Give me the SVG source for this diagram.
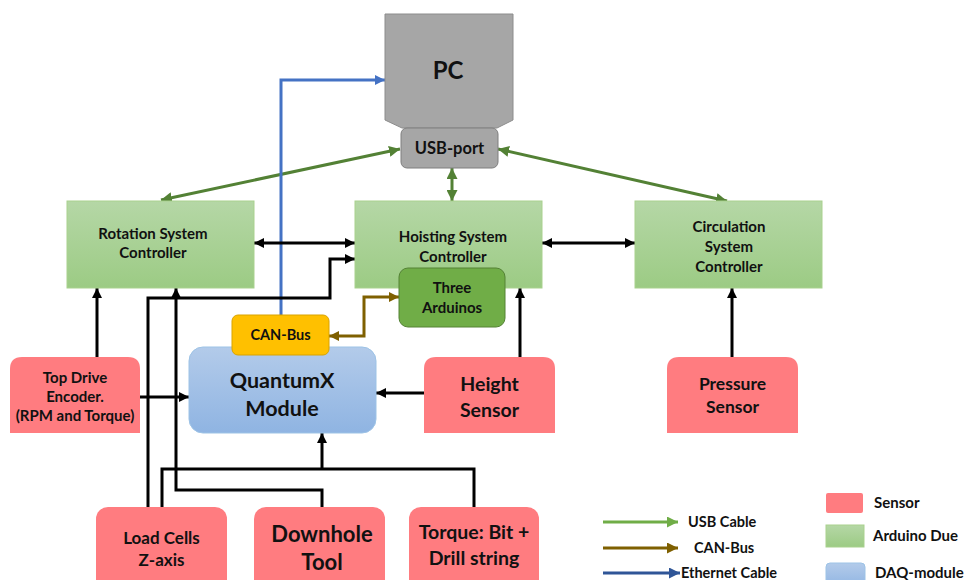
<svg xmlns="http://www.w3.org/2000/svg" width="965" height="580" viewBox="0 0 965 580">
<defs>
<linearGradient id="gGreen" x1="0" y1="0" x2="0" y2="1"><stop offset="0" stop-color="#b5d7a6"/><stop offset="1" stop-color="#9ccb84"/></linearGradient>
<linearGradient id="gBlue" x1="0" y1="0" x2="0" y2="1"><stop offset="0" stop-color="#b3cbea"/><stop offset="1" stop-color="#8fb4e2"/></linearGradient>
<marker id="aK" viewBox="0 0 10 10" refX="10" refY="5" markerWidth="10" markerHeight="10" markerUnits="userSpaceOnUse" orient="auto-start-reverse"><path d="M0,0 L10,5 L0,10 z" fill="#000"/></marker>
<marker id="aG" viewBox="0 0 10 10" refX="10" refY="5" markerWidth="11" markerHeight="11" markerUnits="userSpaceOnUse" orient="auto-start-reverse"><path d="M0,0 L10,5 L0,10 z" fill="#538135"/></marker>
<marker id="aB" viewBox="0 0 10 10" refX="10" refY="5" markerWidth="10" markerHeight="10" markerUnits="userSpaceOnUse" orient="auto-start-reverse"><path d="M0,0 L10,5 L0,10 z" fill="#4472c4"/></marker>
<marker id="aN" viewBox="0 0 10 10" refX="10" refY="5" markerWidth="10" markerHeight="10" markerUnits="userSpaceOnUse" orient="auto-start-reverse"><path d="M0,0 L10,5 L0,10 z" fill="#7f6000"/></marker>
<marker id="aLG" viewBox="0 0 10 10" refX="10" refY="5" markerWidth="11" markerHeight="11" markerUnits="userSpaceOnUse" orient="auto"><path d="M0,0 L10,5 L0,10 z" fill="#70ad47"/></marker>
<marker id="aLN" viewBox="0 0 10 10" refX="10" refY="5" markerWidth="11" markerHeight="11" markerUnits="userSpaceOnUse" orient="auto"><path d="M0,0 L10,5 L0,10 z" fill="#7f6000"/></marker>
<marker id="aLB" viewBox="0 0 10 10" refX="10" refY="5" markerWidth="11" markerHeight="11" markerUnits="userSpaceOnUse" orient="auto"><path d="M0,0 L10,5 L0,10 z" fill="#2f5597"/></marker>
</defs>
<style>
text{font-family:Lato,"Open Sans","Liberation Sans",sans-serif;font-weight:bold;fill:#111;text-anchor:middle}
.ctrl{fill:url(#gGreen);stroke:#a9d18e;stroke-width:1}
.sensor{fill:#ff7c80}
.k{fill:none;stroke:#000;stroke-width:3}
.g{fill:none;stroke:#538135;stroke-width:3}
.lt{text-anchor:start}
</style>
<rect width="965" height="580" fill="#fff"/>

<g id="connectors">
<path class="g" d="M400,149 L161,200" marker-start="url(#aG)" marker-end="url(#aG)"/>
<path class="g" d="M498,149 L727,201" marker-start="url(#aG)" marker-end="url(#aG)"/>
<path class="g" d="M452,168 L452,201" marker-start="url(#aG)" marker-end="url(#aG)"/>
<path d="M281,315 L281,80 L385,80" fill="none" stroke="#4472c4" stroke-width="3" marker-end="url(#aB)"/>
<path d="M329,336 L364,336 L364,297 L399,297" fill="none" stroke="#7f6000" stroke-width="3" marker-start="url(#aN)" marker-end="url(#aN)"/>
<path class="k" d="M254,243 L355,243" marker-start="url(#aK)" marker-end="url(#aK)"/>
<path class="k" d="M542,243 L635,243" marker-start="url(#aK)" marker-end="url(#aK)"/>
<path class="k" d="M97,357 L97,288" marker-end="url(#aK)"/>
<path class="k" d="M140,397 L189,397" marker-end="url(#aK)"/>
<path class="k" d="M424,393 L376,393" marker-end="url(#aK)"/>
<path class="k" d="M520,357 L520,288" marker-end="url(#aK)"/>
<path class="k" d="M732,357 L732,288" marker-end="url(#aK)"/>
<path class="k" d="M148,507 L148,298 L330,298 L330,259 L355,259" marker-end="url(#aK)"/>
<path class="k" d="M162,507 L162,469 L474,469 L474,507"/>
<path class="k" d="M322,469 L322,433" marker-end="url(#aK)"/>
<path class="k" d="M322,507 L322,490 L176,490 L176,288" marker-end="url(#aK)"/>
</g>

<g id="pc">
<path d="M385,14 L513,14 L513,120 L497,128 L402,128 L385,120 Z" fill="#a6a6a6" stroke="#8c8c8c" stroke-width="1"/>
<text x="448" y="79" font-size="24">PC</text>
</g>
<g id="usbport">
<rect x="401" y="128" width="97" height="40" rx="6" fill="#a6a6a6" stroke="#7f7f7f" stroke-width="1"/>
<text x="449.5" y="154" font-size="16.5">USB-port</text>
</g>

<g id="rotation">
<rect class="ctrl" x="67" y="201" width="187" height="87"/>
<text x="153" y="239" font-size="15">Rotation System</text>
<text x="153" y="258" font-size="15">Controller</text>
</g>
<g id="hoisting">
<rect class="ctrl" x="355" y="201" width="187" height="87"/>
<text x="453" y="242" font-size="15">Hoisting System</text>
<text x="453" y="262" font-size="15">Controller</text>
</g>
<g id="circulation">
<rect class="ctrl" x="635" y="201" width="187" height="87"/>
<text x="729" y="232" font-size="15">Circulation</text>
<text x="729" y="252" font-size="15">System</text>
<text x="729" y="272" font-size="15">Controller</text>
</g>
<g id="threearduinos">
<rect x="399" y="268" width="106" height="59" rx="9" fill="#70ad47" stroke="#548235" stroke-width="1"/>
<text x="452" y="293" font-size="15">Three</text>
<text x="452" y="313" font-size="15">Arduinos</text>
</g>

<g id="quantumx">
<rect x="189" y="347" width="187" height="86" rx="14" fill="url(#gBlue)" stroke="#9dc3e6" stroke-width="1"/>
<text x="282" y="388" font-size="21.5">QuantumX</text>
<text x="282" y="416" font-size="21.5">Module</text>
</g>
<g id="canbus">
<rect x="232" y="315" width="97" height="40" rx="6" fill="#ffc000" stroke="#d9a300" stroke-width="1"/>
<text x="280.5" y="340" font-size="14.5">CAN-Bus</text>
</g>

<g id="topdrive">
<path class="sensor" d="M10,433 L10,369 Q10,357 22,357 L128,357 Q140,357 140,369 L140,433 Z"/>
<text x="75" y="383" font-size="15">Top Drive</text>
<text x="75" y="402" font-size="15">Encoder.</text>
<text x="75" y="421" font-size="15">(RPM and Torque)</text>
</g>
<g id="height">
<path class="sensor" d="M424,433 L424,369 Q424,357 436,357 L543,357 Q555,357 555,369 L555,433 Z"/>
<text x="489.5" y="391" font-size="19.5">Height</text>
<text x="489.5" y="417" font-size="19.5">Sensor</text>
</g>
<g id="pressure">
<path class="sensor" d="M667,433 L667,369 Q667,357 679,357 L786,357 Q798,357 798,369 L798,433 Z"/>
<text x="732.5" y="390" font-size="17.5">Pressure</text>
<text x="732.5" y="413" font-size="17.5">Sensor</text>
</g>
<g id="loadcells">
<rect class="sensor" x="96" y="507" width="131" height="90" rx="12"/>
<text x="161.5" y="544" font-size="17">Load Cells</text>
<text x="161.5" y="566" font-size="17">Z-axis</text>
</g>
<g id="downhole">
<rect class="sensor" x="254" y="507" width="131" height="90" rx="12"/>
<text x="322" y="542" font-size="22">Downhole</text>
<text x="322" y="570" font-size="22">Tool</text>
</g>
<g id="torque">
<rect class="sensor" x="409" y="507" width="130" height="90" rx="12"/>
<text x="474" y="539" font-size="19.5">Torque: Bit +</text>
<text x="474" y="565" font-size="19.5">Drill string</text>
</g>

<g id="legend">
<path d="M603,522 L678,522" stroke="#70ad47" stroke-width="3" marker-end="url(#aLG)"/>
<text class="lt" x="688" y="527" font-size="14.5">USB Cable</text>
<path d="M603,548 L678,548" stroke="#7f6000" stroke-width="3" marker-end="url(#aLN)"/>
<text class="lt" x="694" y="553" font-size="14.5">CAN-Bus</text>
<path d="M603,573 L680,573" stroke="#2f5597" stroke-width="3" marker-end="url(#aLB)"/>
<text class="lt" x="681" y="578" font-size="14.5">Ethernet Cable</text>
<rect x="826" y="493" width="37" height="20" rx="2" fill="#ff7c80"/>
<text class="lt" x="874" y="508" font-size="15">Sensor</text>
<rect x="826" y="525" width="38" height="22" fill="url(#gGreen)" stroke="#a9d18e"/>
<text class="lt" x="873" y="541" font-size="15">Arduino Due</text>
<rect x="826" y="563" width="39" height="25" rx="4" fill="url(#gBlue)" stroke="#9dc3e6"/>
<text class="lt" x="875" y="578" font-size="15">DAQ-module</text>
</g>
</svg>
